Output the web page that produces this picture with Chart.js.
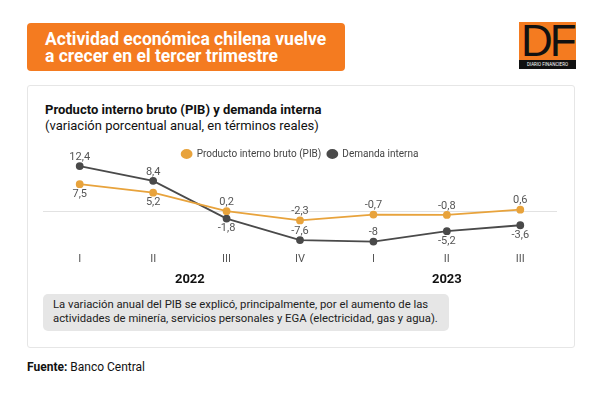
<!DOCTYPE html>
<html>
<head>
<meta charset="utf-8">
<script src="https://cdn.jsdelivr.net/npm/chart.js@4.4.1/dist/chart.umd.min.js"></script>
<style>
  body { margin: 0; width: 600px; height: 394px; background: #fff; font-family: Roboto, sans-serif; position: relative; overflow: hidden; }
  .header { position: absolute; left: 27px; top: 23px; width: 318px; height: 48px; background: #f47b20; border-radius: 4px; }
  .header h1 { margin: 0; position: absolute; left: 18px; top: 8px; color: #fff; font-size: 17.5px; line-height: 17px; font-weight: 700; }
  .logo { position: absolute; left: 519px; top: 22px; width: 57px; height: 47px; background: #f47b20; }
  .logo .df { position: absolute; left: 2px; top: -6px; font-family: "Liberation Sans", Arial, sans-serif; font-size: 44px; font-weight: 400; color: #111; letter-spacing: -3px; }
  .logo .bar { position: absolute; left: 0; bottom: 0; width: 57px; height: 9px; background: #111; color: #fff; font-size: 4.5px; line-height: 9px; text-align: center; }
  .card { position: absolute; left: 27px; top: 85px; width: 546px; height: 261px; border: 1px solid #e6e6e6; border-radius: 3px; }
  .title { position: absolute; left: 45px; top: 102px; font-size: 13px; line-height: 16px; color: #111; }
  .title b { font-weight: 700; }
  .note { position: absolute; left: 43px; top: 294px; width: 406px; height: 37px; background: #e6e6e6; border-radius: 5px; }
  .note p { margin: 0; position: absolute; left: 10px; top: 4px; font-size: 11.3px; line-height: 14px; color: #222; white-space: nowrap; }
  .source { position: absolute; left: 27px; top: 360px; font-size: 12px; color: #111; }
  #wrap { position: absolute; left: 27px; top: 143px; width: 547px; height: 145px; }
</style>
</head>
<body>
<div class="header"><h1>Actividad económica chilena vuelve<br>a crecer en el tercer trimestre</h1></div>
<div class="logo"><div class="df">DF</div><div class="bar">DIARIO FINANCIERO</div></div>
<div class="card"></div>
<div class="title"><b>Producto interno bruto (PIB) y demanda interna</b><br>(variación porcentual anual, en términos reales)</div>
<div id="wrap"><canvas id="chart"></canvas></div>
<div class="note"><p>La variación anual del PIB se explicó, principalmente, por el aumento de las<br>actividades de minería, servicios personales y EGA (electricidad, gas y agua).</p></div>
<div class="source"><b>Fuente:</b> Banco Central</div>
<script>
const quarters = ['I', 'II', 'III', 'IV', 'I', 'II', 'III'];
const years = [
  { label: '2022', from: 0, to: 3 },
  { label: '2023', from: 4, to: 6 }
];
const pib = [7.5, 5.2, 0.2, -2.3, -0.7, -0.8, 0.6];
const demanda = [12.4, 8.4, -1.8, -7.6, -8, -5.2, -3.6];
// which side of the point each value label sits on
const pibLabelSide = ['below', 'below', 'above', 'above', 'above', 'above', 'above'];
const demandaLabelSide = ['above', 'above', 'below', 'above', 'above', 'below', 'below'];

const fmt = v => String(v).replace('.', ',');

const valueLabels = {
  id: 'valueLabels',
  afterDatasetsDraw(chart) {
    const ctx = chart.ctx;
    ctx.save();
    ctx.font = '11px Roboto';
    ctx.fillStyle = '#555';
    ctx.textAlign = 'center';
    ctx.textBaseline = 'middle';
    chart.data.datasets.forEach((ds, i) => {
      const meta = chart.getDatasetMeta(i);
      meta.data.forEach((pt, j) => {
        const dy = ds.labelSide[j] === 'above' ? -9 : 10;
        ctx.fillText(fmt(ds.data[j]), pt.x, pt.y + dy);
      });
    });
    ctx.restore();
  }
};

const yearLabels = {
  id: 'yearLabels',
  afterDraw(chart) {
    const ctx = chart.ctx;
    const x = chart.scales.x;
    ctx.save();
    ctx.font = 'bold 13px Roboto';
    ctx.fillStyle = '#111';
    ctx.textAlign = 'center';
    ctx.textBaseline = 'middle';
    years.forEach(y => {
      const cx = (x.getPixelForValue(y.from) + x.getPixelForValue(y.to)) / 2;
      ctx.fillText(y.label, cx, x.bottom + 12);
    });
    ctx.restore();
  }
};

new Chart(document.getElementById('chart'), {
  type: 'line',
  data: {
    labels: quarters,
    datasets: [
      {
        label: 'Producto interno bruto (PIB)',
        data: pib,
        labelSide: pibLabelSide,
        borderColor: '#e8a33c',
        backgroundColor: '#e8a33c',
        borderWidth: 1.8,
        pointRadius: 3,
        pointHoverRadius: 3,
        tension: 0,
        clip: false
      },
      {
        label: 'Demanda interna',
        data: demanda,
        labelSide: demandaLabelSide,
        borderColor: '#4a4a4a',
        backgroundColor: '#4a4a4a',
        borderWidth: 1.8,
        pointRadius: 3,
        pointHoverRadius: 3,
        tension: 0,
        clip: false
      }
    ]
  },
  options: {
    responsive: true,
    maintainAspectRatio: false,
    animation: false,
    layout: { padding: { left: 16, right: 17, top: 0, bottom: 20 } },
    plugins: {
      legend: {
        position: 'top',
        labels: {
          usePointStyle: true,
          pointStyle: 'circle',
          pointStyleWidth: 10,
          boxHeight: 5.7,
          padding: 6,
          color: '#444',
          font: { family: 'Roboto', size: 10 }
        }
      },
      tooltip: { enabled: false }
    },
    scales: {
      x: {
        offset: true,
        grid: { display: false, drawTicks: false },
        border: { display: false },
        ticks: { color: '#555', font: { family: 'Roboto', size: 11 }, padding: 2 }
      },
      y: {
        min: -10.5,
        max: 11.6,
        afterBuildTicks: s => { s.ticks = [{ value: 0 }]; },
        ticks: { display: false },
        border: { display: false },
        grid: {
          drawTicks: false,
          color: c => c.tick.value === 0 ? '#e2e2e2' : 'rgba(0,0,0,0)'
        }
      }
    }
  },
  plugins: [valueLabels, yearLabels]
});
</script>
</body>
</html>
